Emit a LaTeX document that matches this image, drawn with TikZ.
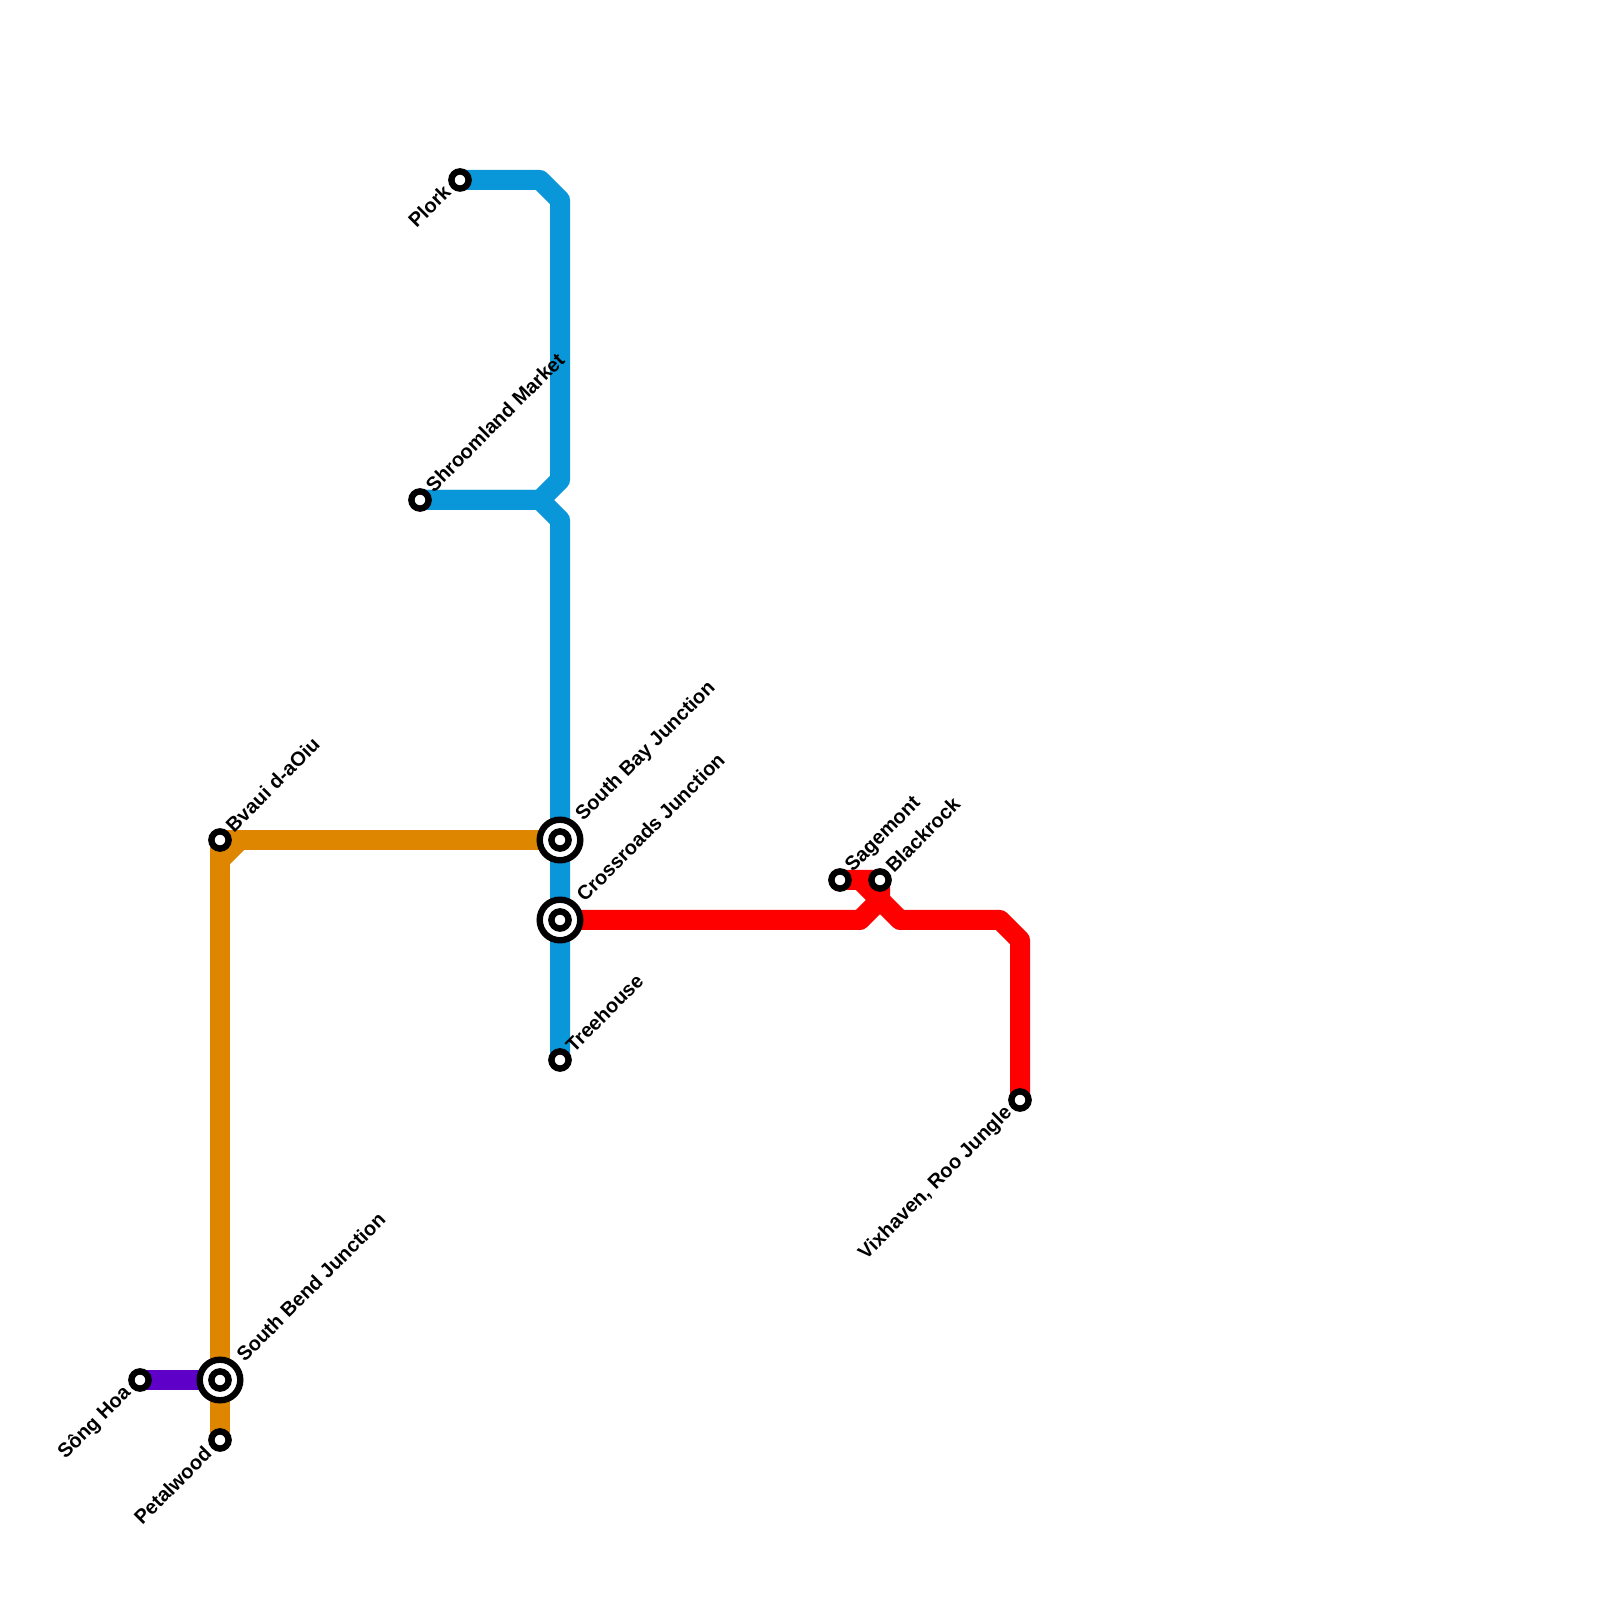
\documentclass[tikz,border=0pt]{standalone}
\usepackage{fontspec}
\setmainfont{Liberation Sans}
\usepackage{xcolor}
\usetikzlibrary{backgrounds}
\definecolor{bluec}{HTML}{0A97D9}
\definecolor{orangec}{HTML}{DF8600}
\definecolor{redc}{HTML}{FF0000}
\definecolor{purplec}{HTML}{5F00C8}
\tikzset{
  stn/.style={circle, draw=black, fill=white, line width=0.16cm, minimum size=0.43cm, inner sep=0pt},
  hub/.style={circle, draw=black, fill=white, line width=0.16cm, minimum size=1.015cm, inner sep=0pt},
  track/.style={line width=0.5cm, line join=round},
  lblne/.style={rotate=45, anchor=west, inner sep=0pt, font=\fontsize{14.2}{14.2}\selectfont\bfseries},
  lblsw/.style={rotate=45, anchor=east, inner sep=0pt, font=\fontsize{14.2}{14.2}\selectfont\bfseries}
}
\begin{document}
\begin{tikzpicture}
  \useasboundingbox (0,0) rectangle (40,40);
  % stations
  \node[hub] (southbayring) at (14,19) {};
  \node[stn] (southbay) at (14,19) {};
  \node[hub] (crossroadsring) at (14,17) {};
  \node[stn] (crossroads) at (14,17) {};
  \node[hub] (southbendring) at (5.5,5.5) {};
  \node[stn] (southbend) at (5.5,5.5) {};
  \node[stn] (plork) at (11.5,35.5) {};
  \node[stn] (shroomland) at (10.5,27.5) {};
  \node[stn] (treehouse) at (14,13.5) {};
  \node[stn] (bvaui) at (5.5,19) {};
  \node[stn] (songhoa) at (3.5,5.5) {};
  \node[stn] (petalwood) at (5.5,4) {};
  \node[stn] (sagemont) at (21,18) {};
  \node[stn] (blackrock) at (22,18) {};
  \node[stn] (vixhaven) at (25.5,12.5) {};
  % lines
  \begin{scope}[on background layer]
    \draw[track, bluec] (plork.center) -- (13.5,35.5) -- (14,35) -- (14,28) -- (13.5,27.5) -- (shroomland.center);
    \draw[track, bluec] (shroomland.center) -- (13.5,27.5) -- (14,27) -- (treehouse.center);
    \draw[track, orangec] (southbay.center) -- (bvaui.center);
    \draw[track, orangec] (6,19) -- (5.5,18.5);
    \draw[track, orangec] (bvaui.center) -- (petalwood.center);
    \draw[track, purplec] (songhoa.center) -- (southbend.center);
    \draw[track, redc] (crossroads.center) -- (21.5,17) -- (22,17.5) -- (blackrock.center) -- (sagemont.center);
    \draw[track, redc] (21.5,18) -- (22.5,17) -- (25,17) -- (25.5,16.5) -- (vixhaven.center);
  \end{scope}
  % labels
  \node[lblsw] at ([shift={(-0.32,-0.2)}]plork) {Plork};
  \node[lblne] at ([shift={(0.22,0.29)}]shroomland) {Shroomland Market};
  \node[lblne] at ([shift={(0.49,0.55)}]southbay) {South Bay Junction};
  \node[lblne] at ([shift={(0.49,0.55)}]crossroads) {Crossroads Junction};
  \node[lblne] at ([shift={(0.22,0.29)}]treehouse) {Treehouse};
  \node[lblne] at ([shift={(0.22,0.29)}]bvaui) {Bvaui d-aOiu};
  \node[lblne] at ([shift={(0.49,0.55)}]southbend) {South Bend Junction};
  \node[lblsw] at ([shift={(-0.3,-0.25)}]songhoa) {Sông Hoa};
  \node[lblsw] at ([shift={(-0.3,-0.25)}]petalwood) {Petalwood};
  \node[lblne] at ([shift={(0.23,0.27)}]sagemont) {Sagemont};
  \node[lblne] at ([shift={(0.22,0.29)}]blackrock) {Blackrock};
  \node[lblsw] at ([shift={(-0.27,-0.25)}]vixhaven) {Vixhaven, Roo Jungle};
\end{tikzpicture}
\end{document}
